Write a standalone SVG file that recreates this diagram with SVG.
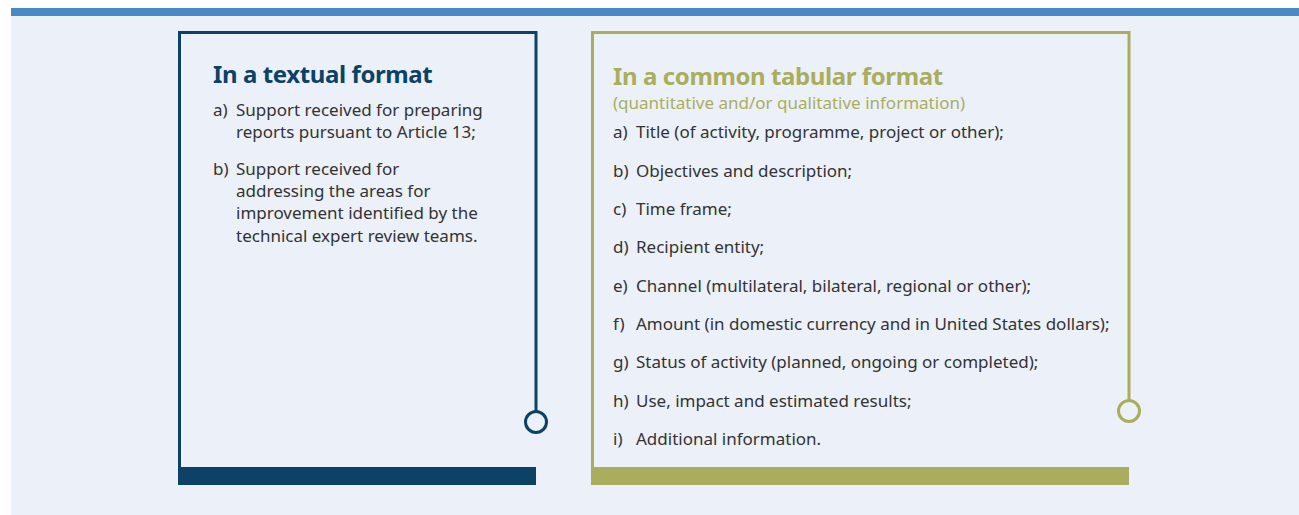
<svg xmlns="http://www.w3.org/2000/svg" width="1299" height="515" viewBox="0 0 1299 515">
<style>
.bg{fill:#ecf0f9}
.title{font-family:"Noto Sans","Open Sans",sans-serif;font-weight:bold;font-size:24px;letter-spacing:-0.4px}
.sub{font-family:"Noto Sans","Open Sans",sans-serif;font-size:17px;fill:#aaae5c}
.body{font-family:"Noto Sans","Open Sans",sans-serif;font-size:17px;fill:#333333}
.blue{stroke:#0b4266;fill:none;stroke-width:3}
.green{stroke:#aaae5c;fill:none;stroke-width:3}
</style>
<rect x="0" y="0" width="1299" height="515" fill="#ffffff"/>
<rect class="bg" x="11" y="8" width="1288" height="507"/>
<rect x="11" y="8" width="1288" height="8" fill="#4a88c7"/>
<g id="textual">
<path class="blue" d="M179.5,467 V32.5 H536 V411"/>
<circle class="blue" cx="536" cy="422" r="10.5"/>
<rect x="178" y="467" width="358" height="18" fill="#0b4266"/>
<text class="title" x="213" y="83" fill="#0b4266">In a textual format</text>
<g class="body">
<text x="213" y="116">a)</text><text x="236" y="116">Support received for preparing</text>
<text x="236" y="138">reports pursuant to Article 13;</text>
<text x="213" y="175">b)</text><text x="236" y="175">Support received for</text>
<text x="236" y="197">addressing the areas for</text>
<text x="236" y="219">improvement identified by the</text>
<text x="236" y="242">technical expert review teams.</text>
</g>
</g>
<g id="tabular">
<path class="green" d="M592.5,467 V32.5 H1129 V400"/>
<circle class="green" cx="1129" cy="411" r="10.5"/>
<rect x="591" y="467" width="538" height="18" fill="#aaae5c"/>
<text class="title" x="613" y="85" fill="#aaae5c">In a common tabular format</text>
<text class="sub" x="613" y="108.5">(quantitative and/or qualitative information)</text>
<g class="body">
<text x="613" y="138.4">a)</text><text x="636" y="138.4">Title (of activity, programme, project or other);</text>
<text x="613" y="176.7">b)</text><text x="636" y="176.7">Objectives and description;</text>
<text x="613" y="215">c)</text><text x="636" y="215">Time frame;</text>
<text x="613" y="253.4">d)</text><text x="636" y="253.4">Recipient entity;</text>
<text x="613" y="291.7">e)</text><text x="636" y="291.7">Channel (multilateral, bilateral, regional or other);</text>
<text x="613" y="330">f)</text><text x="636" y="330">Amount (in domestic currency and in United States dollars);</text>
<text x="613" y="368.3">g)</text><text x="636" y="368.3">Status of activity (planned, ongoing or completed);</text>
<text x="613" y="406.7">h)</text><text x="636" y="406.7">Use, impact and estimated results;</text>
<text x="613" y="445">i)</text><text x="636" y="445">Additional information.</text>
</g>
</g>
</svg>
